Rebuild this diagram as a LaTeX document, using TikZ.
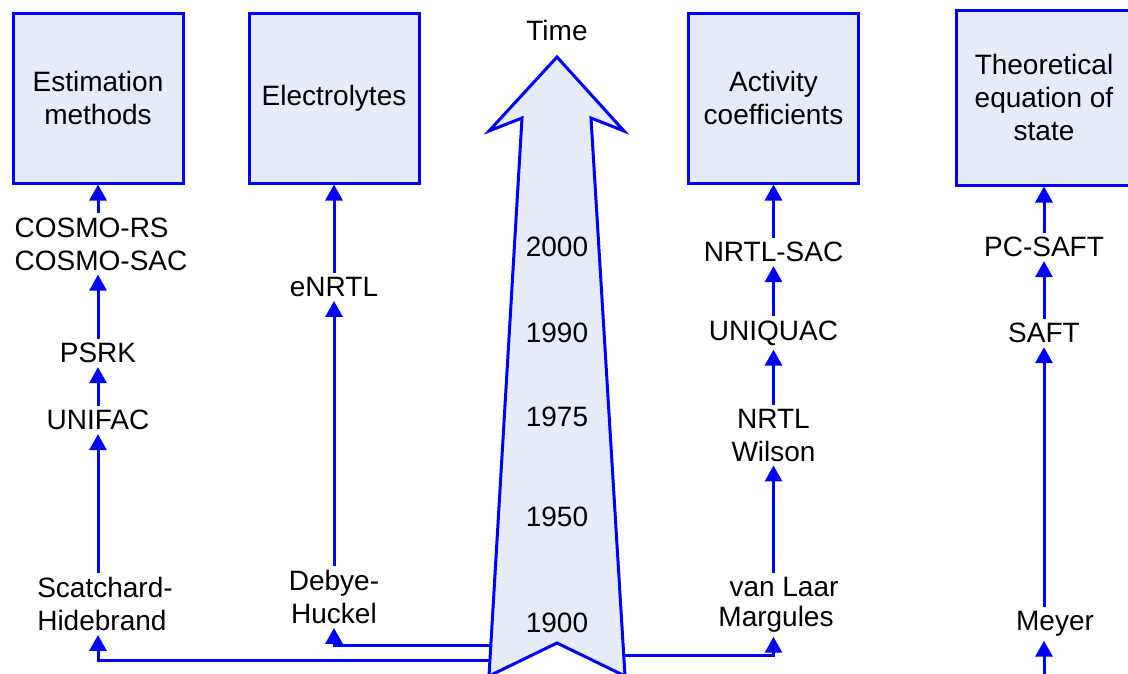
\documentclass[tikz,border=0pt]{standalone}
\usepackage{fontspec}
\setmainfont{Liberation Sans}
\usetikzlibrary{arrows.meta}
\definecolor{boxfill}{RGB}{230,236,247}
\definecolor{lineblue}{RGB}{0,0,255}
\tikzset{
  txt/.style={font=\fontsize{28}{33}\selectfont, align=center, inner sep=4pt},
  catbox/.style={txt, draw=lineblue, line width=3pt, fill=boxfill,
                 minimum width=170pt, minimum height=170pt},
  conn/.style={draw=lineblue, line width=3pt,
               -{Triangle[width=17pt,length=16pt]}},
  timeline/.style={draw=lineblue, line width=3pt, fill=boxfill, line join=miter}
}
\begin{document}
\begin{tikzpicture}[x=1pt,y=-1pt]
\useasboundingbox (0,0) rectangle (1128,673);
\clip (0,0) rectangle (1128,673);

% column axes
\coordinate (colA) at (98,0);
\coordinate (colB) at (334,0);
\coordinate (colC) at (773.5,0);
\coordinate (colD) at (1044,0);

% category boxes
\node[catbox] (est) at (98,98) {Estimation\\methods};
\node[catbox] (ele) at (334,98) {Electrolytes};
\node[catbox] (act) at (773.5,98) {Activity\\coefficients};
\node[catbox, minimum width=175pt, minimum height=175pt] (eos) at (1044,97.5) {Theoretical\\equation of\\state};

% estimation methods
\node[txt, align=left] (cosmo) at (101,244) {COSMO-RS\\COSMO-SAC};
\node[txt] (psrk) at (98,353) {PSRK};
\node[txt] (unifac) at (98,420) {UNIFAC};
\node[txt, align=left] (scatch) at (105,604) {Scatchard-\\Hidebrand};

% electrolytes
\node[txt] (enrtl) at (334,287) {eNRTL};
\node[txt] (debye) at (334,597) {Debye-\\Huckel};

% activity coefficients
\node[txt] (nrtlsac) at (773.5,252) {NRTL-SAC};
\node[txt] (uniquac) at (773.5,333) {UNIQUAC};
\node[txt] (nrtl) at (773.5,435) {NRTL\\Wilson};
\node[txt] (vanlaar) at (776,605) {\hspace*{16pt}van Laar\\[-3pt]Margules};

% equations of state
\node[txt] (pcsaft) at (1044,247) {PC-SAFT};
\node[txt] (saft) at (1044,333) {SAFT};
\node[txt] (meyer) at (1055,624) {Meyer};

% development chains
\draw[conn] (colA |- cosmo.north) -- (est.south);
\draw[conn] (colA |- psrk.north) -- (colA |- cosmo.south);
\draw[conn] (unifac.north) -- (psrk.south);
\draw[conn] (colA |- scatch.north) -- (unifac.south);

\draw[conn] (enrtl.north) -- (ele.south);
\draw[conn] (debye.north) -- (enrtl.south);

\draw[conn] (nrtlsac.north) -- (act.south);
\draw[conn] (uniquac.north) -- (nrtlsac.south);
\draw[conn] (nrtl.north) -- (uniquac.south);
\draw[conn] (colC |- vanlaar.north) -- (nrtl.south);

\draw[conn] (pcsaft.north) -- (eos.south);
\draw[conn] (saft.north) -- (pcsaft.south);
\draw[conn] (colD |- meyer.north) -- (saft.south);

% links from the time axis to the earliest models
\coordinate (axL1) at (492,660);
\coordinate (axL2) at (492,645);
\coordinate (axR) at (622,655);
\coordinate (meyerIn) at (1044,690);
\draw[conn] (axL1) -| (colA |- scatch.south);
\draw[conn] (axL2) -| (debye.south);
\draw[conn] (axR) -| (colC |- vanlaar.south);
\draw[conn] (meyerIn) -- (colD |- meyer.south);

% time axis arrow
\coordinate (tip) at (557,57);
\coordinate (barbL) at (489,131);
\coordinate (neckL) at (522,118);
\coordinate (footL) at (489,676);
\coordinate (notch) at (557,643);
\coordinate (footR) at (625,676);
\coordinate (neckR) at (591,118);
\coordinate (barbR) at (624,131);
\path[timeline] (tip) -- (barbL) -- (neckL) -- (footL) -- (notch) -- (footR)
  -- (neckR) -- (barbR) -- cycle;

\node[txt] (time) at (557,30) {Time};
\node[txt] (y2000) at (557,247) {2000};
\node[txt] (y1990) at (557,333) {1990};
\node[txt] (y1975) at (557,417) {1975};
\node[txt] (y1950) at (557,517) {1950};
\node[txt] (y1900) at (557,623) {1900};
\end{tikzpicture}
\end{document}
